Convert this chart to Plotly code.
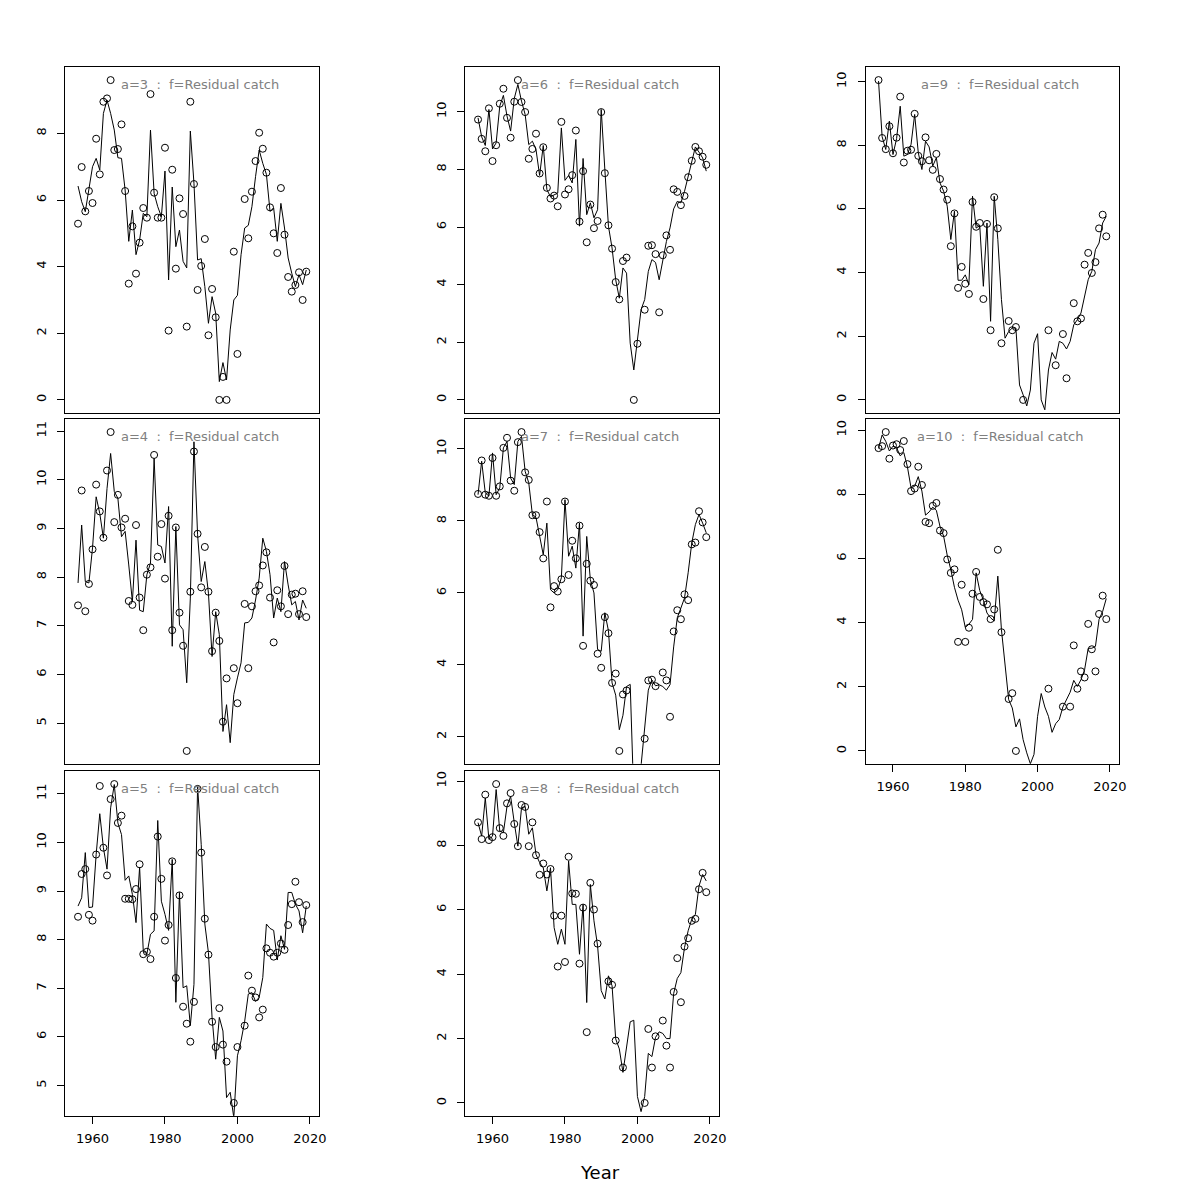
import plotly.graph_objects as go

years = list(range(1956, 2020))
ages = [3, 4, 5, 6, 7, 8, 9, 10]
N = None

obs_a3 = [5.29, 6.99, 5.66, 6.27, 5.91, 7.84, 6.77, 8.95, 9.05, 9.6,
          7.5, 7.53, 8.27, 6.27, 3.49, 5.21, 3.79, 4.72, 5.76, 5.47,
          9.18, 6.22, 5.47, 5.47, 7.57, 2.08, 6.91, 3.94, 6.05, 5.58,
          2.2, 8.95, 6.48, 3.3, 4.02, 4.83, 1.94, 3.33, 2.48, 0.0,
          0.69, 0.0, N, 4.45, 1.38, N, 6.03, 4.85, 6.25, 7.17,
          8.02, 7.54, 6.82, 5.78, 5.0, 4.41, 6.36, 4.96, 3.69, 3.25,
          3.45, 3.83, 3.0, 3.85]
fit_a3 = [6.42, 5.95, 5.65, 6.3, 7.0, 7.25, 6.9, 8.6, 9.0, 8.6,
          8.1, 7.27, 7.25, 6.3, 4.76, 5.7, 4.36, 4.8, 5.6, 5.5,
          8.1, 6.2, 5.8, 5.5, 6.87, 3.6, 6.39, 4.6, 5.1, 4.16,
          3.96, 8.07, 6.5, 4.2, 4.24, 3.4, 2.3, 3.1, 2.6, 0.55,
          1.12, 0.6, 2.1, 3.0, 3.14, 4.36, 5.16, 5.24, 5.8, 6.7,
          7.5, 7.1, 6.77, 5.66, 5.76, 4.76, 5.9, 5.16, 4.26, 3.8,
          3.4, 3.76, 3.46, 3.9]

obs_a4 = [7.42, 9.78, 7.30, 7.86, 8.57, 9.90, 9.35, 8.81, 10.19, 10.98,
          9.13, 9.69, 9.02, 9.20, 7.51, 7.43, 9.07, 7.58, 6.91, 8.05,
          8.20, 10.51, 8.42, 9.09, 7.97, 9.26, 6.91, 9.02, 7.27, 6.59,
          4.43, 7.70, 10.58, 8.89, 7.79, 8.62, 7.70, 6.48, 7.27, 6.69,
          5.03, 5.92, N, 6.13, 5.41, N, 7.45, 6.13, 7.40, 7.71,
          7.83, 8.24, 8.51, 7.58, 6.66, 7.73, 7.40, 8.23, 7.24, 7.64,
          7.66, 7.24, 7.71, 7.18]
fit_a4 = [7.88, 9.07, 7.91, 7.88, 8.6, 9.65, 9.31, 8.8, 9.82, 10.54,
          9.76, 9.62, 8.83, 8.94, 8.25, 7.5, 8.76, 7.32, 7.29, 8.05,
          8.29, 10.44, 8.66, 8.63, 8.29, 9.45, 6.58, 9.04, 7.02, 6.92,
          5.83, 7.57, 10.78, 8.87, 7.91, 8.32, 7.67, 6.37, 7.29, 6.82,
          4.83, 5.38, 4.6, 5.59, 5.93, 6.24, 7.06, 7.07, 7.16, 7.53,
          7.98, 8.8, 8.53, 8.05, 7.16, 7.57, 7.29, 8.32, 7.84, 7.43,
          7.5, 7.12, 7.53, 7.36]

obs_a5 = [8.47, 9.35, 9.45, 8.51, 8.39, 9.75, 11.16, 9.89, 9.32, 10.89,
          11.2, 10.4, 10.55, 8.84, 8.84, 8.83, 9.04, 9.55, 7.70, 7.75,
          7.6, 8.47, 10.12, 9.25, 7.98, 8.3, 9.61, 7.21, 8.91, 6.62,
          6.27, 5.9, 6.72, 11.1, 9.79, 8.43, 7.69, 6.31, 5.79, 6.59,
          5.84, 5.49, N, 4.64, 5.79, N, 6.23, 7.26, 6.95, 6.81,
          6.40, 6.56, 7.82, 7.73, 7.65, 7.73, 7.92, 7.79, 8.3, 8.73,
          9.19, 8.77, 8.36, 8.71]
fit_a5 = [8.69, 8.86, 9.79, 8.66, 8.67, 9.75, 10.59, 9.89, 9.45, 10.71,
          11.19, 10.4, 10.16, 9.22, 9.31, 8.93, 8.35, 9.49, 7.77, 7.70,
          8.11, 8.18, 10.45, 8.79, 8.52, 8.19, 9.65, 6.71, 8.97, 7.01,
          7.05, 6.23, 7.08, 11.16, 9.96, 8.32, 7.73, 6.4, 5.54, 6.4,
          6.12, 4.75, 4.86, 4.34, 5.61, 5.92, 6.32, 6.88, 6.91, 6.73,
          6.81, 7.22, 8.32, 8.23, 8.19, 7.58, 8.08, 7.8, 8.97, 8.97,
          8.73, 8.59, 8.14, 8.69]

obs_a6 = [9.73, 9.06, 8.63, 10.12, 8.29, 8.84, 10.28, 10.8, 9.79, 9.1,
          10.35, 11.1, 10.34, 9.99, 8.37, 8.71, 9.24, 7.86, 8.77, 7.36,
          6.99, 7.09, 6.72, 9.65, 7.13, 7.31, 7.8, 9.35, 6.19, 7.94,
          5.47, 6.78, 5.96, 6.21, 9.99, 7.87, 6.06, 5.25, 4.09, 3.49,
          4.82, 4.94, N, 0.0, 1.95, N, 3.13, 5.35, 5.37, 5.06,
          3.04, 5.02, 5.71, 5.21, 7.31, 7.22, 6.76, 7.08, 7.73, 8.3,
          8.78, 8.63, 8.44, 8.16]
fit_a6 = [9.79, 9.13, 8.83, 10.08, 8.71, 8.92, 10.2, 10.57, 9.85, 9.33,
          10.46, 10.95, 10.37, 9.91, 8.86, 8.98, 8.69, 7.79, 8.83, 7.3,
          7.05, 7.13, 7.18, 9.44, 7.62, 7.79, 7.53, 9.04, 6.03, 8.38,
          6.43, 6.84, 6.32, 6.6, 10.08, 8.0, 6.03, 5.27, 4.17, 3.53,
          4.58, 4.4, 1.97, 1.04, 2.03, 3.13, 3.48, 4.46, 4.87, 4.77,
          4.17, 4.87, 5.5, 5.97, 6.63, 6.89, 6.84, 7.24, 7.76, 8.29,
          8.78, 8.6, 8.4, 7.94]

obs_a7 = [8.75, 9.68, 8.73, 8.70, 9.75, 8.70, 8.96, 10.03, 10.31, 9.12,
          8.84, 10.19, 10.47, 9.35, 9.14, 8.16, 8.16, 7.69, 6.96, 8.54,
          5.6, 6.19, 6.04, 6.38, 8.54, 6.5, 7.45, 6.96, 7.87, 4.53,
          6.81, 6.34, 6.22, 4.31, 3.92, 5.33, 4.88, 3.5, 3.76, 1.61,
          3.18, 3.29, N, N, N, N, 1.95, 3.57, 3.59, 3.41,
          N, 3.79, 3.57, 2.56, 4.93, 5.52, 5.27, 5.96, 5.8, 7.35,
          7.4, 8.27, 7.96, 7.55]
fit_a7 = [8.73, 9.66, 8.78, 8.69, 9.89, 8.73, 8.92, 10.03, 10.21, 9.19,
          9.01, 10.21, 10.35, 9.38, 9.06, 8.18, 8.1, 7.62, 7.06, 7.94,
          6.09, 6.0, 6.09, 6.42, 8.59, 7.02, 7.3, 6.69, 7.94, 4.8,
          7.57, 6.37, 6.0, 4.43, 4.38, 5.45, 4.95, 3.5, 3.16, 2.2,
          2.6, 3.4, 3.46, 0.3, 0.5, 1.2, 2.35, 3.3, 3.58, 3.42,
          3.45, 3.4, 3.3, 3.45, 4.5, 5.31, 5.58, 5.86, 6.56, 7.39,
          7.9, 8.18, 7.94, 7.67]

obs_a8 = [8.72, 8.2, 9.58, 8.17, 8.26, 9.91, 8.54, 8.3, 9.31, 9.63,
          8.67, 7.98, 9.26, 9.2, 7.98, 8.72, 7.7, 7.09, 7.44, 7.1,
          7.27, 5.82, 4.24, 5.82, 4.38, 7.65, 6.51, 6.5, 4.33, 6.07,
          2.2, 6.84, 6.01, 4.95, N, N, 3.78, 3.67, 1.94, N,
          1.1, N, N, N, N, N, 0.0, 2.3, 1.1, 2.07,
          N, 2.56, 1.78, 1.1, 3.45, 4.5, 3.13, 4.86, 5.12, 5.66,
          5.72, 6.64, 7.15, 6.55]
fit_a8 = [8.71, 8.29, 9.48, 8.19, 8.29, 9.74, 8.45, 8.4, 9.22, 9.53,
          8.71, 7.98, 9.17, 9.22, 8.35, 8.55, 7.72, 7.47, 7.31, 6.59,
          7.31, 5.45, 4.93, 5.4, 4.93, 7.52, 6.17, 6.17, 4.62, 6.17,
          3.12, 6.79, 5.66, 4.88, 3.49, 3.23, 3.95, 3.64, 1.99, 1.68,
          0.95, 1.75, 2.52, 2.57, 0.2, -0.27, 0.2, 1.54, 1.44, 2.04,
          2.21, 2.16, 2.0, 2.0, 3.4, 3.87, 4.05, 4.83, 5.35, 5.71,
          5.86, 6.74, 7.1, 6.9]

obs_a9 = [10.05, 8.23, 7.88, 8.6, 7.75, 8.24, 9.53, 7.46, 7.83, 7.86,
          8.99, 7.67, 7.5, 8.25, 7.53, 7.23, 7.73, 6.94, 6.61, 6.29,
          4.83, 5.86, 3.52, 4.18, 3.65, 3.33, 6.22, 5.44, 5.56, 3.17,
          5.53, 2.19, 6.37, 5.39, 1.78, N, 2.48, 2.19, 2.29, N,
          0.0, N, N, N, N, N, N, 2.19, N, 1.09,
          N, 2.07, 0.68, N, 3.04, 2.47, 2.56, 4.25, 4.62, 3.99,
          4.33, 5.39, 5.82, 5.14]
fit_a9 = [10.02, 8.27, 7.87, 8.76, 7.71, 8.21, 9.23, 7.66, 7.71, 8.03,
          8.97, 7.77, 7.24, 8.13, 7.95, 7.35, 7.61, 6.82, 6.56, 6.09,
          5.04, 5.93, 3.76, 3.76, 3.93, 3.62, 6.4, 5.4, 5.48, 3.57,
          5.56, 2.47, 6.4, 5.04, 3.15, 1.94, 2.15, 2.26, 2.26, 0.47,
          0.16, -0.19, 0.31, 1.78, 2.08, 0.0, -0.31, 0.94, 1.49, 1.28,
          1.84, 1.78, 1.6, 1.84, 2.36, 2.52, 2.73, 3.3, 3.78, 4.04,
          4.72, 4.93, 5.56, 5.77]

obs_a10 = [9.44, 9.5, 9.94, 9.11, 9.52, 9.56, 9.38, 9.66, 8.94, 8.1,
           8.18, 8.86, 8.29, 7.14, 7.1, 7.64, 7.73, 6.87, 6.79, 5.97,
           5.55, 5.66, 3.4, 5.18, 3.4, 3.84, 4.9, 5.58, 4.8, 4.64,
           4.57, 4.11, 4.41, 6.27, 3.7, N, 1.62, 1.8, 0.0, N,
           N, N, N, N, N, N, N, 1.94, N, N,
           N, 1.38, N, 1.38, 3.29, 1.94, 2.48, 2.29, 3.96, 3.17,
           2.48, 4.27, 4.84, 4.11]
fit_a10 = [9.43, 9.85, 9.65, 9.35, 9.5, 9.45, 9.2, 9.3, 8.85, 8.2,
           8.25, 8.55, 8.1, 7.35, 7.45, 7.6, 7.5, 7.0, 6.7, 6.1,
           5.65, 5.1, 4.7, 4.4, 3.85, 3.95, 4.1, 5.55, 5.0, 4.7,
           4.3, 4.15, 4.05, 5.45, 3.78, 2.74, 1.6, 1.34, 0.75, 1.0,
           0.35, -0.06, -0.4, -0.11, 1.08, 1.79, 1.37, 1.08, 0.58, 0.85,
           0.98, 1.37, 1.6, 1.83, 2.2, 2.01, 2.22, 2.53, 3.2, 3.2,
           3.26, 4.1, 4.35, 4.75]

obs = {3: obs_a3, 4: obs_a4, 5: obs_a5, 6: obs_a6, 7: obs_a7, 8: obs_a8, 9: obs_a9, 10: obs_a10}
fit = {3: fit_a3, 4: fit_a4, 5: fit_a5, 6: fit_a6, 7: fit_a7, 8: fit_a8, 9: fit_a9, 10: fit_a10}
fleet = "Residual catch"
x_axis_title = "Year"

# ---- layout (page pixels; the page body adds an 8 px margin) ----
OFF = 8
W = H = 1184
col_px = [(65.0, 319.3), (465.0, 719.3), (865.5, 1119.3)]
row_px = [(67.3, 412.7), (419.3, 763.7), (771.3, 1115.7)]
grid = {3: (0, 0), 4: (0, 1), 5: (0, 2), 6: (1, 0), 7: (1, 1), 8: (1, 2), 9: (2, 0), 10: (2, 1)}
bottom_panels = {5, 8, 10}
ystep = {3: 2, 4: 1, 5: 1, 6: 2, 7: 2, 8: 2, 9: 2, 10: 2}
xlim = (1955, 2020)
xpad = 0.04 * (xlim[1] - xlim[0])


def fx(p):
    return (p - OFF) / W


def fy(p):
    return 1 - (p - OFF) / H


FONT = "DejaVu Sans"
tickfont = dict(family=FONT, size=13, color="black")

fig = go.Figure()
layout = {}
annotations = []
for i, a in enumerate(ages):
    k = i + 1
    xs = "x" if k == 1 else f"x{k}"
    ys = "y" if k == 1 else f"y{k}"
    c, r = grid[a]
    x0, x1 = col_px[c]
    y0, y1 = row_px[r]
    vals = [v for v in obs[a] if v is not None]
    lo, hi = min(vals), max(vals)
    pad = 0.04 * (hi - lo)

    fig.add_trace(go.Scatter(x=years, y=fit[a], mode="lines",
                             line=dict(color="black", width=1),
                             xaxis=xs, yaxis=ys, showlegend=False, hoverinfo="skip"))
    fig.add_trace(go.Scatter(x=years, y=obs[a], mode="markers",
                             marker=dict(symbol="circle-open", size=7, color="black",
                                         line=dict(width=1, color="black")),
                             xaxis=xs, yaxis=ys, showlegend=False))

    is_bottom = a in bottom_panels
    layout["xaxis" if k == 1 else f"xaxis{k}"] = dict(
        domain=[fx(x0), fx(x1)], anchor=ys, automargin=False,
        range=[xlim[0] - xpad, xlim[1] + xpad],
        showgrid=False, zeroline=False,
        showline=True, mirror=True, linecolor="black", linewidth=1,
        ticks="outside" if is_bottom else "", ticklen=7, tickwidth=1, tickcolor="black",
        showticklabels=is_bottom, tick0=1960, dtick=20, tickfont=tickfont,
        ticklabelstandoff=4,
    )
    layout["yaxis" if k == 1 else f"yaxis{k}"] = dict(
        domain=[fy(y1), fy(y0)], anchor=xs, automargin=False,
        range=[lo - pad, hi + pad],
        showgrid=False, zeroline=False,
        showline=True, mirror=True, linecolor="black", linewidth=1,
        ticks="outside", ticklen=7, tickwidth=1, tickcolor="black",
        tick0=0, dtick=ystep[a], tickangle=-90, tickfont=tickfont,
        ticklabelstandoff=6,
    )
    annotations.append(dict(
        text=f"a={a}  :  f={fleet}", xref="paper", yref="paper",
        x=fx((x0 + x1) / 2 + 8), y=fy(y0 + 17),
        xanchor="center", yanchor="middle", showarrow=False,
        font=dict(family=FONT, size=13, color="#808080"),
    ))

annotations.append(dict(
    text=x_axis_title, xref="paper", yref="paper", x=fx(600), y=fy(1172),
    xanchor="center", yanchor="middle", showarrow=False,
    font=dict(family=FONT, size=18, color="black"),
))

fig.update_layout(**layout)
fig.update_layout(
    template="none",
    width=W, height=H, margin=dict(l=0, r=0, t=0, b=0, pad=0),
    paper_bgcolor="white", plot_bgcolor="white",
    annotations=annotations, showlegend=False,
    font=dict(family=FONT, color="black"),
)
fig.write_html("out.html")
